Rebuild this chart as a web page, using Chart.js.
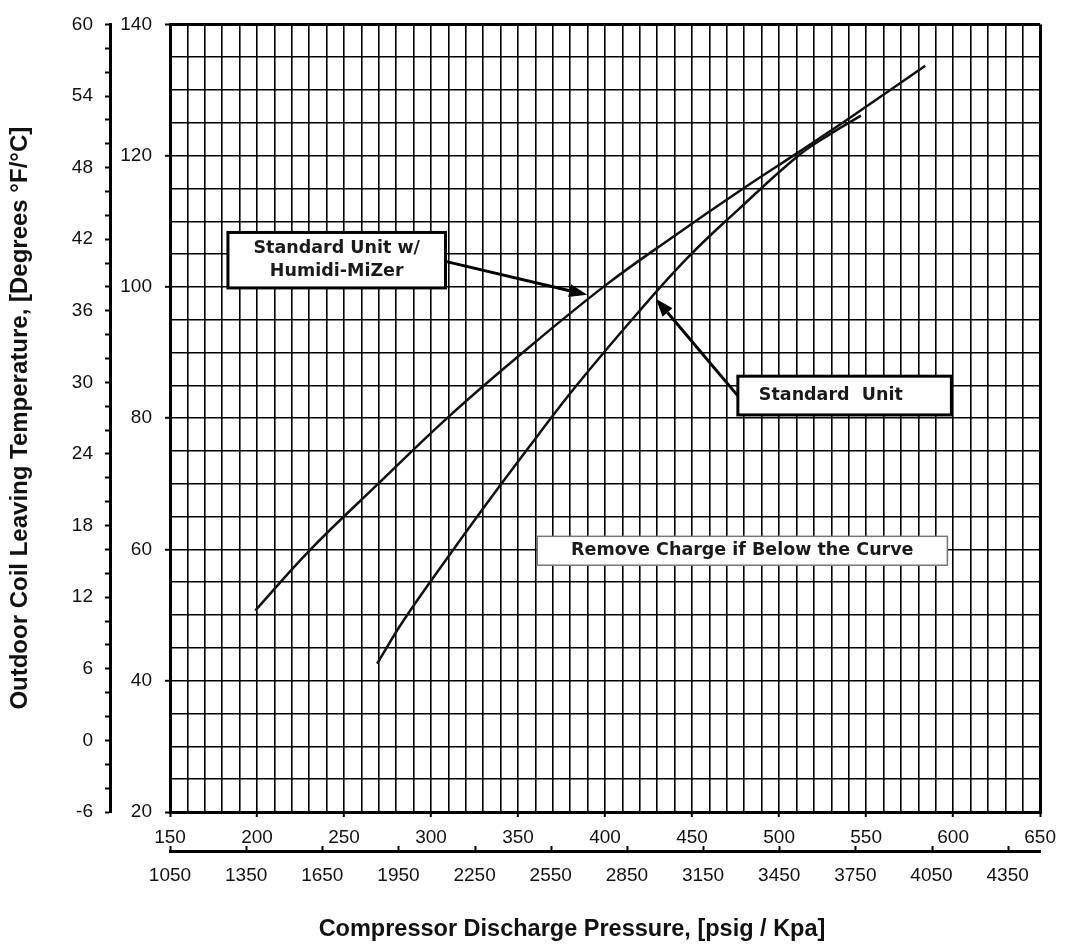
<!DOCTYPE html>
<html>
<head>
<meta charset="utf-8">
<script src="https://cdn.jsdelivr.net/npm/chart.js@4.4.1/dist/chart.umd.min.js"></script>
<style>
html,body{margin:0;padding:0;background:#fff;}
#wrap{width:1065px;height:949px;position:relative;}
canvas{display:block;}
</style>
</head>
<body>
<div id="wrap"><canvas id="chart" width="1065" height="949"></canvas></div>
<script>
// ---- Data ----
// Curve "Standard Unit w/ Humidi-MiZer"
const humidiPsig  = [199, 230, 270, 310, 350, 400, 440, 480, 511, 542, 584];
const humidiTempF = [50.7, 59.8, 70.1, 80.2, 89.4, 100.2, 107.8, 115.1, 120.5, 126.0, 133.7];
// Curve "Standard Unit"
const standardPsig  = [269, 284, 311, 339, 362, 383, 418, 448, 477, 511, 530, 547];
const standardTempF = [42.6, 49.1, 59.3, 69.5, 77.6, 84.8, 95.8, 104.6, 111.9, 120.0, 123.4, 126.1];

// Tick labels
const psigLabels  = [150, 200, 250, 300, 350, 400, 450, 500, 550, 600, 650];
const kpaLabels   = [1050, 1350, 1650, 1950, 2250, 2550, 2850, 3150, 3450, 3750, 4050, 4350];
const tempFLabels = [20, 40, 60, 80, 100, 120, 140];
const tempCLabels = [-6, 0, 6, 12, 18, 24, 30, 36, 42, 48, 54, 60];

// Axis ranges
const psigRange  = [150, 650];
const kpaRange   = [1050, 4478];
const tempFRange = [20, 140];
const tempCRange = [-6, 60];

// Text
const xTitle = 'Compressor Discharge Pressure, [psig / Kpa]';
const yTitle = 'Outdoor Coil Leaving Temperature, [Degrees °F/°C]';
const annotations = [
  {lines: ['Standard Unit w/', 'Humidi-MiZer'], box: [183.3, 108.3, 308.3, 99.85], border: 3, color: '#000', align: 'center',
   arrow: {from: [308.3, 103.9], to: [389.7, 98.8]}},
  {lines: ['Standard  Unit'], box: [476.3, 86.4, 599.0, 80.5], border: 3, color: '#000', align: 'left', indent: 21,
   arrow: {from: [476.3, 83.4], to: [429.2, 98.2]}},
  {lines: ['Remove Charge if Below the Curve'], box: [361.0, 62.0, 596.7, 57.6], border: 1.5, color: '#777', align: 'center'}
];

const toPoints = (xs, ys) => xs.map((x, i) => ({x: x, y: ys[i]}));

const TICK_FONT = {family: "'Liberation Sans', Arial, sans-serif", size: 19};
const NOTE_FONT = "bold 17.5px 'DejaVu Sans', Verdana, sans-serif";

function drawArrow(ctx, x1, y1, x2, y2) {
  const ang = Math.atan2(y2 - y1, x2 - x1);
  const len = 18, half = 6.5;
  const bx = x2 - len * Math.cos(ang), by = y2 - len * Math.sin(ang);
  ctx.beginPath();
  ctx.moveTo(x1, y1);
  ctx.lineTo(bx, by);
  ctx.stroke();
  ctx.beginPath();
  ctx.moveTo(x2, y2);
  ctx.lineTo(bx + half * Math.sin(ang), by - half * Math.cos(ang));
  ctx.lineTo(bx - half * Math.sin(ang), by + half * Math.cos(ang));
  ctx.closePath();
  ctx.fill();
}

const decorPlugin = {
  id: 'decor',
  afterDatasetsDraw(chart) {
    const ctx = chart.ctx;
    const xs = chart.scales.x, ys = chart.scales.y;
    ctx.save();
    annotations.forEach(a => {
      const l = xs.getPixelForValue(a.box[0]), t = ys.getPixelForValue(a.box[1]);
      const r = xs.getPixelForValue(a.box[2]), b = ys.getPixelForValue(a.box[3]);
      if (a.arrow) {
        ctx.strokeStyle = '#000'; ctx.fillStyle = '#000'; ctx.lineWidth = 3;
        drawArrow(ctx, xs.getPixelForValue(a.arrow.from[0]), ys.getPixelForValue(a.arrow.from[1]),
                       xs.getPixelForValue(a.arrow.to[0]), ys.getPixelForValue(a.arrow.to[1]));
      }
      ctx.fillStyle = '#fff';
      ctx.fillRect(l, t, r - l, b - t);
      ctx.strokeStyle = a.color; ctx.lineWidth = a.border;
      ctx.strokeRect(l, t, r - l, b - t);
      ctx.fillStyle = '#1a1a1a';
      ctx.font = NOTE_FONT;
      ctx.textBaseline = 'middle';
      const lh = 23;
      const cy = (t + b) / 2 - (a.lines.length - 1) * lh / 2;
      a.lines.forEach((txt, i) => {
        if (a.align === 'left') {
          ctx.textAlign = 'left';
          ctx.fillText(txt, l + a.indent, cy + i * lh);
        } else {
          ctx.textAlign = 'center';
          ctx.fillText(txt, (l + r) / 2, cy + i * lh);
        }
      });
    });
    ctx.restore();
  },
  afterDraw(chart) {
    const ctx = chart.ctx;
    const k = chart.scales.x2;
    ctx.save();
    // kPa tick marks pointing up from the kPa axis line
    ctx.strokeStyle = '#000'; ctx.lineWidth = 2;
    kpaLabels.forEach(v => {
      const px = Math.round(k.getPixelForValue(v)) + 0.5;
      ctx.beginPath(); ctx.moveTo(px, k.top); ctx.lineTo(px, k.top - 5); ctx.stroke();
    });
    // x-axis title
    ctx.fillStyle = '#111';
    ctx.font = "bold 23.5px 'Liberation Sans', Arial, sans-serif";
    ctx.textAlign = 'center';
    ctx.textBaseline = 'middle';
    ctx.fillText(xTitle, chart.chartArea.left + 402, 930);
    ctx.restore();
  }
};

const gridW = (edge) => (c) => (c.tick && edge.includes(c.tick.value)) ? 3 : 1.6;

new Chart(document.getElementById('chart'), {
  type: 'line',
  data: {
    datasets: [
      {label: 'Standard Unit w/ Humidi-MiZer', data: toPoints(humidiPsig, humidiTempF),
       borderColor: '#111', borderWidth: 2.5, pointRadius: 0, tension: 0.4, fill: false},
      {label: 'Standard Unit', data: toPoints(standardPsig, standardTempF),
       borderColor: '#111', borderWidth: 2.5, pointRadius: 0, tension: 0.4, fill: false}
    ]
  },
  options: {
    responsive: false,
    animation: false,
    devicePixelRatio: 1,
    layout: {padding: {top: 17, right: 23, left: 0, bottom: 0}},
    plugins: {legend: {display: false}, tooltip: {enabled: false}, title: {display: false}},
    scales: {
      x: {
        type: 'linear', position: 'bottom', weight: 0,
        min: psigRange[0], max: psigRange[1],
        ticks: {stepSize: 10, autoSkip: false, maxRotation: 0, color: '#111', font: TICK_FONT, padding: 9,
                callback: (v) => psigLabels.includes(v) ? String(v) : ''},
        grid: {color: '#000', lineWidth: gridW(psigRange), tickLength: 5, tickWidth: 2,
               tickColor: (c) => (c.tick && psigLabels.includes(c.tick.value)) ? '#000' : 'rgba(0,0,0,0)'},
        border: {color: '#000', width: 3},
        afterFit: (s) => { s.height = 39; }
      },
      x2: {
        type: 'linear', position: 'bottom', weight: 1,
        min: kpaRange[0], max: kpaRange[1],
        afterBuildTicks: (s) => { s.ticks = kpaLabels.map(v => ({value: v})); },
        ticks: {autoSkip: false, maxRotation: 0, color: '#111', font: TICK_FONT, padding: 13,
                callback: (v) => String(v)},
        grid: {display: true, drawOnChartArea: false, drawTicks: false},
        border: {color: '#000', width: 3},
        afterFit: (s) => { s.height = 98; }
      },
      y: {
        type: 'linear', position: 'left', weight: 0,
        min: tempFRange[0], max: tempFRange[1],
        ticks: {stepSize: 5, autoSkip: false, color: '#111', font: TICK_FONT, padding: 13,
                callback: (v) => tempFLabels.includes(v) ? String(v) : ''},
        grid: {color: '#000', lineWidth: gridW(tempFRange), tickLength: 5, tickWidth: 2,
               tickColor: (c) => (c.tick && tempFLabels.includes(c.tick.value)) ? '#000' : 'rgba(0,0,0,0)'},
        border: {color: '#000', width: 3},
        afterFit: (s) => { s.width = 60; }
      },
      y2: {
        type: 'linear', position: 'left', weight: 1,
        min: tempCRange[0], max: tempCRange[1],
        ticks: {stepSize: 2, autoSkip: false, color: '#111', font: TICK_FONT, padding: 12,
                callback: (v) => tempCLabels.includes(v) ? String(v) : ''},
        grid: {display: true, drawOnChartArea: false, tickLength: 5, tickWidth: 2, tickColor: '#000'},
        border: {color: '#000', width: 3},
        title: {display: true, text: yTitle, color: '#111',
                font: {family: "'Liberation Sans', Arial, sans-serif", size: 24, weight: 'bold'},
                padding: {top: 6, bottom: 0}},
        afterFit: (s) => { s.width = 110; }
      }
    }
  },
  plugins: [decorPlugin]
});
</script>
</body>
</html>
